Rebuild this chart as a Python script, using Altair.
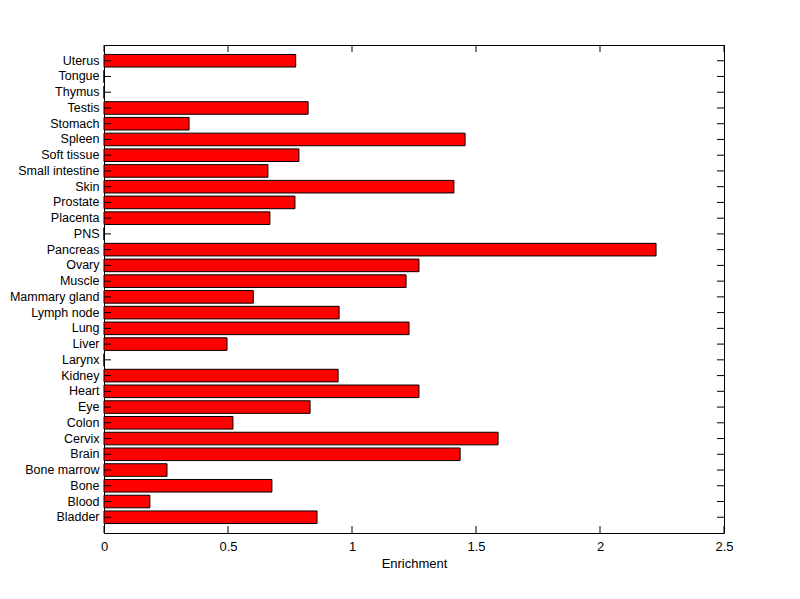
import altair as alt
import pandas as pd

tissues = ["Uterus", "Tongue", "Thymus", "Testis", "Stomach", "Spleen", "Soft tissue",
           "Small intestine", "Skin", "Prostate", "Placenta", "PNS", "Pancreas", "Ovary",
           "Muscle", "Mammary gland", "Lymph node", "Lung", "Liver", "Larynx", "Kidney",
           "Heart", "Eye", "Colon", "Cervix", "Brain", "Bone marrow", "Bone", "Blood", "Bladder"]
enrichment = [0.773, 0, 0, 0.823, 0.343, 1.456, 0.786,
              0.661, 1.411, 0.770, 0.669, 0, 2.226, 1.270,
              1.218, 0.602, 0.948, 1.230, 0.496, 0, 0.944,
              1.270, 0.831, 0.520, 1.589, 1.436, 0.254, 0.677, 0.185, 0.859]
x_ticks = [0, 0.5, 1, 1.5, 2, 2.5]

W, H = 620, 488
TL = 7
FONT = "Liberation Sans"

df = pd.DataFrame({"Tissue": tissues, "Enrichment": enrichment})
tdf = pd.DataFrame({"Tissue": tissues})
xdf = pd.DataFrame({"Enrichment": x_ticks})

yscale = alt.Scale(domain=tissues, paddingInner=0.2, paddingOuter=0.6)
xscale = alt.Scale(domain=[0, 2.5], nice=False, zero=True)

xaxis = alt.Axis(values=x_ticks, format="~g", title="Enrichment", tickSize=0,
                 domain=False, grid=False, labelPadding=7, labelFontSize=13,
                 labelFlush=False,
                 labelFont=FONT, labelColor="black", titleFont=FONT,
                 titleFontSize=13, titleFontWeight="normal", titleColor="black",
                 titlePadding=4)
yaxis = alt.Axis(title=None, tickSize=0, domain=False, grid=False, labelPadding=5,
                 labelFontSize=12.5, labelFont=FONT, labelColor="black")

X = alt.X("Enrichment:Q", scale=xscale, axis=xaxis)
Y = alt.Y("Tissue:N", scale=yscale, sort=tissues, axis=yaxis)

bars = alt.Chart(df).mark_bar(color="#ff0000", stroke="black", strokeWidth=1).encode(x=X, y=Y)

left_ticks = alt.Chart(tdf).mark_rule(color="black", strokeWidth=1).encode(
    y=Y, x=alt.value(0), x2=alt.value(TL))
right_ticks = alt.Chart(tdf).mark_rule(color="black", strokeWidth=1).encode(
    y=Y, x=alt.value(W - TL), x2=alt.value(W))
bottom_ticks = alt.Chart(xdf).mark_rule(color="black", strokeWidth=1).encode(
    x=X, y=alt.value(H), y2=alt.value(H - TL))
top_ticks = alt.Chart(xdf).mark_rule(color="black", strokeWidth=1).encode(
    x=X, y=alt.value(0), y2=alt.value(TL))

chart = alt.layer(bars, left_ticks, right_ticks, bottom_ticks, top_ticks).properties(
    width=W, height=H,
    autosize=alt.AutoSizeParams(type="none"),
    padding={"left": 96, "top": 37, "right": 60, "bottom": 60},
    background="white",
).configure_view(stroke="black", strokeWidth=1)

chart.save("out.html", embed_options={"renderer": "svg", "actions": False})
